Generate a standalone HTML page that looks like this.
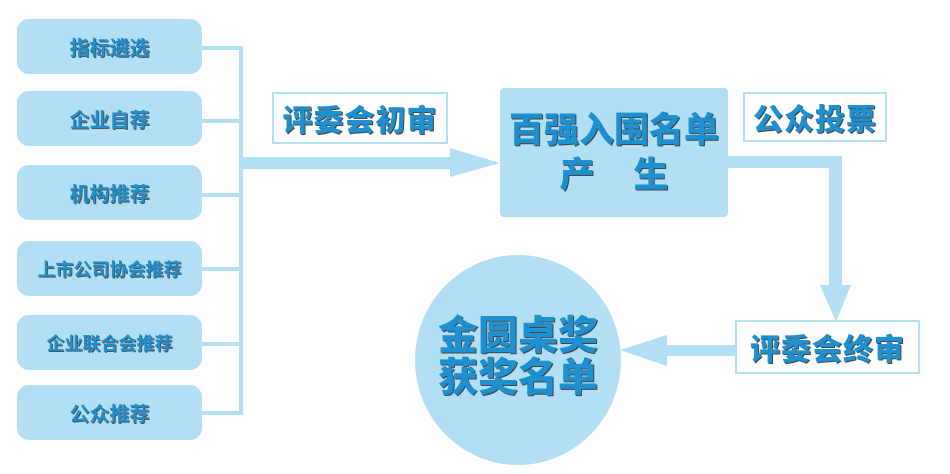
<!DOCTYPE html>
<html><head><meta charset="utf-8"><style>
body{margin:0;width:950px;height:474px;background:#fff;position:relative;overflow:hidden;font-family:"Liberation Sans","Noto Sans CJK SC",sans-serif}
.b{position:absolute;background:#b3dff4;border-radius:12px;left:17px;width:185px;height:55px;color:#1e8fcf;font-weight:bold;font-size:20px;display:flex;align-items:center;justify-content:center;text-shadow:1px 1px 0 #555}
.l{position:absolute;background:#fff;border:2px solid #b3dff4;color:#1e8fcf;font-weight:900;display:flex;align-items:center;justify-content:center;text-shadow:1px 1px 0 #444;letter-spacing:1px}
.r{position:absolute;background:#b3dff4}
</style></head><body>
<div class="b" style="top:19px">指标遴选</div>
<div class="b" style="top:91px">企业自荐</div>
<div class="b" style="top:165px">机构推荐</div>
<div class="b" style="top:241px;font-size:18px">上市公司协会推荐</div>
<div class="b" style="top:315px;font-size:18px">企业联合会推荐</div>
<div class="b" style="top:385px">公众推荐</div>
<div class="r" style="left:202px;top:46px;width:40px;height:4px"></div>
<div class="r" style="left:202px;top:119px;width:40px;height:4px"></div>
<div class="r" style="left:202px;top:193px;width:40px;height:4px"></div>
<div class="r" style="left:202px;top:267px;width:40px;height:4px"></div>
<div class="r" style="left:202px;top:342px;width:40px;height:4px"></div>
<div class="r" style="left:202px;top:411px;width:40px;height:4px"></div>
<div class="r" style="left:239px;top:46px;width:4px;height:369px"></div>
<div class="r" style="left:242px;top:157px;width:210px;height:12px"></div>
<svg style="position:absolute;left:0;top:0" width="950" height="474">
<polygon points="450,148 500,163 450,177" fill="#b3dff4"/>
<polygon points="820,285 851,285 836,322" fill="#b3dff4"/>
<polygon points="667,335 667,366 620,350" fill="#b3dff4"/>
</svg>
<div class="l" style="left:272px;top:92px;width:172px;height:48px;font-size:30px">评委会初审</div>
<div class="r" style="left:500px;top:88px;width:228px;height:129px;border-radius:4px;color:#1e8fcf;font-weight:900;font-size:35px;text-align:center;line-height:45px;text-shadow:1px 1px 0 #444;padding-top:20px;box-sizing:border-box;white-space:nowrap">百强入围名单<br>产&nbsp;&nbsp;&nbsp;&nbsp;生</div>
<div class="l" style="left:743px;top:92px;width:140px;height:46px;font-size:30px">公众投票</div>
<div class="r" style="left:728px;top:156px;width:114px;height:12px"></div>
<div class="r" style="left:829px;top:156px;width:13px;height:130px"></div>
<div class="r" style="left:415px;top:255px;width:206px;height:210px;border-radius:50%;color:#1e8fcf;font-weight:900;font-size:40px;text-align:center;line-height:42px;text-shadow:1px 1px 0 #444;padding-top:60px;box-sizing:border-box">金圆桌奖<br>获奖名单</div>
<div class="r" style="left:667px;top:345px;width:70px;height:11px"></div>
<div class="l" style="left:735px;top:320px;width:181px;height:50px;font-size:30px">评委会终审</div>
</body></html>
